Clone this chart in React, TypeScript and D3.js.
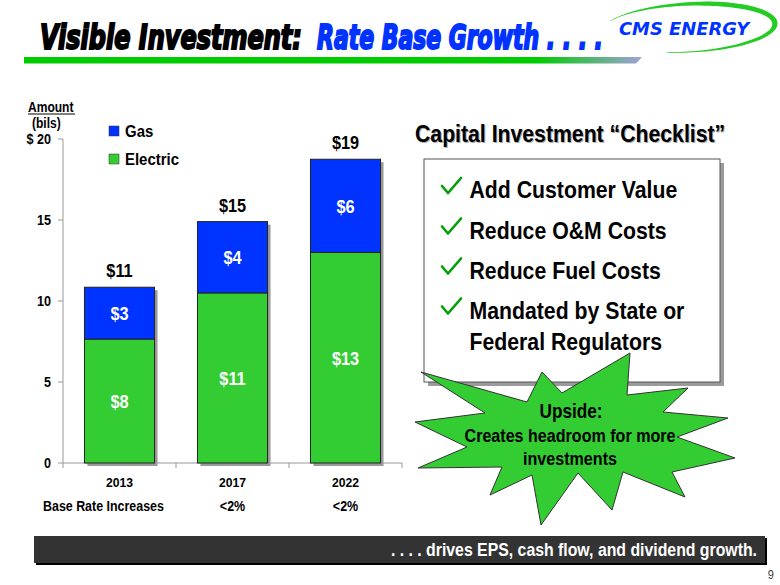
import React, { useLayoutEffect, useRef, useState } from "react";
import * as d3 from "d3";

// ---------- data ----------
const years = ["2013", "2017", "2022"];
const electric = [7.65, 10.5, 13.0];
const gas = [3.2, 4.4, 5.75];
const electricLabels = ["$8", "$11", "$13"];
const gasLabels = ["$3", "$4", "$6"];
const totalLabels = ["$11", "$15", "$19"];
const rateIncreases = ["", "<2%", "<2%"];
const yTicks = [0, 5, 10, 15, 20];
const yTickLabels = ["0", "5", "10", "15", "$ 20"];
const seriesNames = ["Gas", "Electric"];
const checklistLines = [
  "Add Customer Value",
  "Reduce O&M Costs",
  "Reduce Fuel Costs",
  "Mandated by State or",
  "Federal Regulators",
];
const checkedLines = [true, true, true, true, false];

// ---------- styles ----------
const BLUE = "#0033FF";
const GREEN = "#33CC33";
const FONT = "'Liberation Sans', Arial, Helvetica, sans-serif";
const TITLE_FONT = "'DejaVu Sans Condensed', 'DejaVu Sans', sans-serif";

type TProps = {
  x: number;
  y: number;
  size: number;
  anchor?: "start" | "middle" | "end";
  fill?: string;
  sx?: number;
  weight?: string;
  family?: string;
  children: React.ReactNode;
};

function T({ x, y, size, anchor = "start", fill = "#000", sx = 0.87, weight = "bold", family = FONT, children }: TProps) {
  return (
    <text
      transform={`translate(${x},${y}) scale(${sx},1)`}
      fontSize={size}
      textAnchor={anchor}
      fill={fill}
      fontWeight={weight}
      fontFamily={family}
    >
      {children}
    </text>
  );
}

// text scaled horizontally so that its width equals `width`
type FProps = {
  x: number;
  y: number;
  size: number;
  width: number;
  fill?: string;
  stroke?: string;
  strokeWidth?: number;
  italic?: boolean;
  family?: string;
  children: string;
};
function FitText({ x, y, size, width, fill = "#000", stroke, strokeWidth, italic = false, family = FONT, children }: FProps) {
  const ref = useRef<SVGTextElement>(null);
  const [sx, setSx] = useState(0.85);
  useLayoutEffect(() => {
    if (ref.current) {
      const w = ref.current.getComputedTextLength();
      if (w > 0) setSx(width / w);
    }
  }, [width, children, size]);
  return (
    <text
      ref={ref}
      transform={`translate(${x},${y}) scale(${sx},1)`}
      fontSize={size}
      fontWeight="bold"
      fontStyle={italic ? "italic" : "normal"}
      fontFamily={family}
      fill={fill}
      stroke={stroke}
      strokeWidth={strokeWidth}
    >
      {children}
    </text>
  );
}

function LogoRing() {
  const cx = 688, cy = 28, rx = 87, ry = 24;
  const t0 = (208 * Math.PI) / 180, t1 = (465 * Math.PI) / 180;
  const n = 90;
  const outer: [number, number][] = [];
  const inner: [number, number][] = [];
  for (let i = 0; i <= n; i++) {
    const t = i / n;
    const a = t0 + (t1 - t0) * t;
    const w = 0.6 + 5 * Math.pow(Math.sin(Math.PI * t), 1.5);
    outer.push([cx + (rx + w / 2) * Math.cos(a), cy + (ry + w / 2) * Math.sin(a)]);
    inner.push([cx + (rx - w / 2) * Math.cos(a), cy + (ry - w / 2) * Math.sin(a)]);
  }
  const pts = outer.concat(inner.reverse());
  const d = d3.line()(pts) + "Z";
  return <path d={d} fill="#22CC22" transform="rotate(-3 688 28)" />;
}

export default function App() {
  const W = 780, H = 585;
  const x = d3.scaleBand<string>().domain(years).range([63, 402]).paddingInner(0.38).paddingOuter(0.19);
  const y = d3.scaleLinear().domain([0, 20]).range([463, 139]);
  const bw = x.bandwidth();
  const step = x.step();
  const boundaries = d3.range(years.length + 1).map((i) => 63 + i * step);

  const starPts: [number, number][] = [
    [421, 372], [527, 402], [542, 372], [562, 393], [630, 353], [627, 395],
    [688, 388], [663, 412], [728, 418], [677, 437], [735, 458], [672, 472],
    [685, 497], [623, 472], [612, 510], [578, 473], [541, 525], [532, 475],
    [490, 495], [502, 467], [418, 468], [467, 447], [415, 422], [485, 413],
  ];
  const starPath = d3.line()(starPts) + "Z";

  return (
    <svg width={W} height={H} style={{ position: "absolute", left: 0, top: 0, background: "#fff" }}>
      <defs>
        <linearGradient id="barGrad" x1="0" x2="1" y1="0" y2="0">
          <stop offset="0" stopColor="#00CC00" />
          <stop offset="0.83" stopColor="#00CC00" />
          <stop offset="1" stopColor="#A0A0D8" />
        </linearGradient>
      </defs>

      {/* ---------- title ---------- */}
      <path d="M24,57 L642,57 L636,63.5 L24,63.5 Z" fill="url(#barGrad)" />
      <FitText x={40} y={48.5} size={34} width={262} italic family={TITLE_FONT} fill="#000" stroke="#000" strokeWidth={2}>
        Visible Investment:
      </FitText>
      <FitText x={317} y={48.5} size={34} width={286} italic family={TITLE_FONT} fill={BLUE} stroke={BLUE} strokeWidth={2}>
        Rate Base Growth . . . .
      </FitText>

      {/* logo */}
      <LogoRing />
      <FitText x={619} y={35} size={18} width={130} italic family="'DejaVu Sans', sans-serif" fill={BLUE}>
        CMS ENERGY
      </FitText>

      {/* ---------- chart ---------- */}
      <T x={28} y={112} size={14} sx={0.86}>Amount</T>
      <line x1={28} x2={75} y1={114} y2={114} stroke="#000" strokeWidth={1} />
      <T x={32} y={128} size={14} sx={0.86}>(bils)</T>

      {/* axes */}
      <line x1={63} x2={63} y1={y(20)} y2={y(0)} stroke="#999" strokeWidth={1} />
      {yTicks.map((t, i) => (
        <g key={t}>
          <line x1={58} x2={63} y1={y(t)} y2={y(t)} stroke="#999" />
          <T x={51} y={y(t) + 5} size={14} anchor="end" sx={0.9}>{yTickLabels[i]}</T>
        </g>
      ))}
      <line x1={63} x2={402} y1={y(0)} y2={y(0)} stroke="#999" strokeWidth={1} />
      {boundaries.map((b, i) => (
        <line key={i} x1={b} x2={b} y1={y(0)} y2={y(0) + 5} stroke="#999" />
      ))}

      {/* bars */}
      {years.map((yr, i) => {
        const x0 = x(yr)!;
        const total = electric[i] + gas[i];
        const cx = x0 + bw / 2;
        return (
          <g key={yr}>
            <rect x={x0 + 3} y={y(total) + 3} width={bw} height={y(0) - y(total)} fill="#9a9a9a" />
            <rect x={x0} y={y(electric[i])} width={bw} height={y(0) - y(electric[i])} fill={GREEN} stroke="#222" strokeWidth={1} />
            <rect x={x0} y={y(total)} width={bw} height={y(electric[i]) - y(total)} fill={BLUE} stroke="#222" strokeWidth={1} />
            <T x={cx} y={y(electric[i] / 2) + 7} size={19} anchor="middle" fill="#fff" sx={0.86}>{electricLabels[i]}</T>
            <T x={cx} y={y(electric[i] + gas[i] / 2) + 7} size={19} anchor="middle" fill="#fff" sx={0.86}>{gasLabels[i]}</T>
            <T x={cx} y={y(total) - 10} size={19} anchor="middle" sx={0.86}>{totalLabels[i]}</T>
            <T x={cx} y={487} size={13.5} anchor="middle" sx={0.9}>{yr}</T>
            {rateIncreases[i] && (
              <T x={cx} y={511} size={14.5} anchor="middle" sx={0.86}>{rateIncreases[i]}</T>
            )}
          </g>
        );
      })}
      <T x={43} y={511} size={14.5} sx={0.857}>Base Rate Increases</T>

      {/* legend */}
      {seriesNames.map((s, i) => (
        <g key={s}>
          <rect x={109} y={126 + i * 28} width={10} height={10} fill={i === 0 ? BLUE : GREEN} stroke="#333" strokeWidth={0.5} />
          <T x={125} y={137 + i * 27.5} size={17} sx={0.88}>{s}</T>
        </g>
      ))}

      {/* ---------- checklist ---------- */}
      <FitText x={416} y={143} size={23} width={310} fill="#aaa">Capital Investment “Checklist”</FitText>
      <FitText x={415} y={142} size={23} width={310}>Capital Investment “Checklist”</FitText>

      <rect x={428} y={163} width={296} height={223} fill="#9a9a9a" />
      <rect x={424} y={159} width={296} height={223} fill="#fff" stroke="#555" strokeWidth={1} />
      {checklistLines.map((line, i) => {
        const by = [198, 238.5, 278.5, 318.5, 350][i];
        return (
          <g key={i}>
            {checkedLines[i] && (
              <path
                d={`M442,${by - 12} L448,${by - 5} L461,${by - 20}`}
                fill="none" stroke="#00A000" strokeWidth={2.6} strokeLinejoin="round" strokeLinecap="round"
              />
            )}
            <T x={469.5} y={by} size={24} sx={0.886}>{line}</T>
          </g>
        );
      })}

      {/* starburst */}
      <path d={starPath} fill={GREEN} stroke="#333" strokeWidth={1} strokeLinejoin="miter" />
      <T x={571} y={418} size={20} anchor="middle" sx={0.86}>Upside:</T>
      <T x={570} y={442} size={18.5} anchor="middle" sx={0.87}>Creates headroom for more</T>
      <T x={570} y={464.5} size={18.5} anchor="middle" sx={0.87}>investments</T>

      {/* ---------- bottom banner ---------- */}
      <rect x={36} y={538} width={731} height={27} fill="#000" />
      <rect x={34} y={536} width={731} height={27} fill="#333" />
      <T x={757} y={556} size={18} anchor="end" fill="#fff" sx={0.88}>. . . . drives EPS, cash flow, and dividend growth.</T>

      <T x={774} y={579} size={13} anchor="end" fill="#444" weight="normal" sx={0.85}>9</T>
    </svg>
  );
}
